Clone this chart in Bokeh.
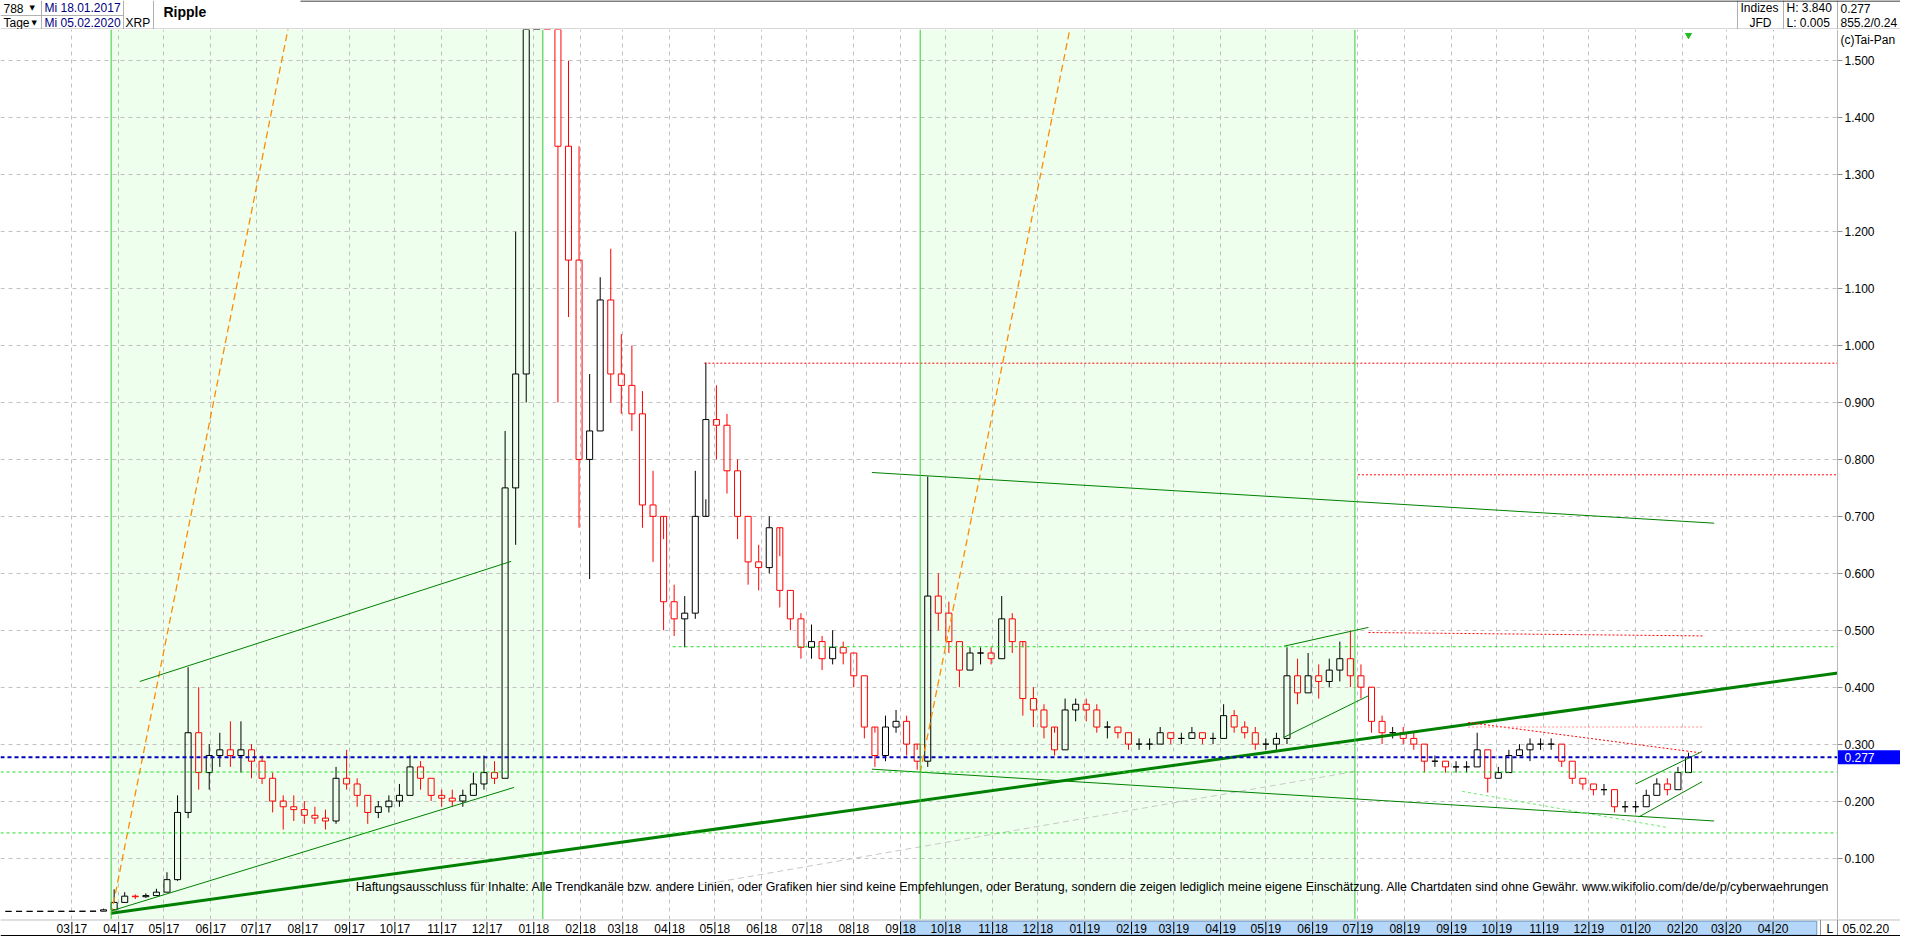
import numpy as np
import pandas as pd
from bokeh.plotting import figure
from bokeh.layouts import column
from bokeh.models import (Range1d, FixedTicker, NumeralTickFormatter, BoxAnnotation,
                          Span, Label, ColumnDataSource, Grid)
from bokeh.core.properties import value
from bokeh.embed import file_html
from bokeh.resources import INLINE

FONT = "Liberation Sans"


def ms(d):
    return pd.Timestamp(d).value / 1e6


# ---------------- data (weekly candles) ----------------
week_start = "2017-01-16"
first_open = 0.0062
close = [0.0063, 0.0063, 0.0063, 0.0064, 0.0064, 0.0064, 0.0064, 0.0065, 0.0066, 0.0090,
         0.022, 0.033, 0.032, 0.034, 0.040, 0.062, 0.180, 0.320, 0.250, 0.280,
         0.290, 0.280, 0.290, 0.270, 0.240, 0.200, 0.190, 0.185, 0.175, 0.170,
         0.165, 0.240, 0.230, 0.210, 0.180, 0.190, 0.200, 0.210, 0.260, 0.240,
         0.210, 0.205, 0.200, 0.210, 0.230, 0.250, 0.240, 0.750, 0.950, 2.100,
         2.700, 1.750, 1.350, 1.150, 0.800, 0.850, 1.080, 0.950, 0.930, 0.880,
         0.720, 0.700, 0.550, 0.520, 0.530, 0.700, 0.870, 0.860, 0.780, 0.700,
         0.620, 0.610, 0.680, 0.570, 0.520, 0.470, 0.480, 0.450, 0.470, 0.460,
         0.420, 0.330, 0.280, 0.330, 0.340, 0.300, 0.270, 0.560, 0.530, 0.480,
         0.430, 0.460, 0.460, 0.450, 0.520, 0.480, 0.380, 0.360, 0.330, 0.290,
         0.360, 0.370, 0.360, 0.330, 0.330, 0.320, 0.300, 0.300, 0.300, 0.320,
         0.310, 0.310, 0.320, 0.310, 0.310, 0.350, 0.330, 0.320, 0.300, 0.300,
         0.310, 0.420, 0.390, 0.420, 0.410, 0.430, 0.450, 0.420, 0.400, 0.340,
         0.320, 0.320, 0.310, 0.300, 0.270, 0.270, 0.260, 0.260, 0.260, 0.290,
         0.240, 0.250, 0.280, 0.290, 0.300, 0.300, 0.300, 0.270, 0.240, 0.230,
         0.220, 0.220, 0.190, 0.190, 0.190, 0.210, 0.230, 0.220, 0.250, 0.277]
high = [0.0066, 0.0066, 0.0065, 0.0067, 0.0066, 0.0065, 0.0066, 0.0067, 0.0070, 0.0110,
        0.045, 0.040, 0.036, 0.038, 0.046, 0.075, 0.210, 0.435, 0.400, 0.300,
        0.320, 0.340, 0.340, 0.300, 0.280, 0.250, 0.210, 0.210, 0.200, 0.190,
        0.185, 0.260, 0.290, 0.240, 0.210, 0.200, 0.210, 0.230, 0.280, 0.270,
        0.240, 0.220, 0.220, 0.220, 0.250, 0.280, 0.270, 0.850, 1.200, 2.400,
        3.840, 2.900, 1.900, 1.500, 1.350, 0.950, 1.120, 1.170, 1.020, 1.000,
        0.920, 0.780, 0.660, 0.580, 0.560, 0.780, 0.970, 0.930, 0.880, 0.800,
        0.700, 0.650, 0.700, 0.630, 0.570, 0.530, 0.510, 0.490, 0.500, 0.480,
        0.460, 0.420, 0.320, 0.350, 0.360, 0.350, 0.290, 0.770, 0.600, 0.550,
        0.480, 0.470, 0.470, 0.470, 0.560, 0.530, 0.470, 0.400, 0.370, 0.320,
        0.380, 0.380, 0.380, 0.370, 0.340, 0.330, 0.320, 0.310, 0.310, 0.330,
        0.320, 0.320, 0.330, 0.320, 0.320, 0.370, 0.360, 0.340, 0.330, 0.310,
        0.320, 0.470, 0.450, 0.460, 0.440, 0.450, 0.480, 0.500, 0.440, 0.400,
        0.350, 0.330, 0.330, 0.320, 0.300, 0.280, 0.270, 0.270, 0.270, 0.320,
        0.290, 0.260, 0.290, 0.300, 0.310, 0.310, 0.310, 0.300, 0.270, 0.240,
        0.230, 0.230, 0.220, 0.200, 0.200, 0.220, 0.240, 0.240, 0.260, 0.285]
low = [0.0060, 0.0061, 0.0061, 0.0062, 0.0062, 0.0062, 0.0062, 0.0063, 0.0063, 0.0064,
       0.009, 0.022, 0.028, 0.030, 0.033, 0.040, 0.060, 0.170, 0.220, 0.220,
       0.260, 0.260, 0.250, 0.240, 0.230, 0.180, 0.150, 0.165, 0.160, 0.160,
       0.150, 0.160, 0.220, 0.190, 0.160, 0.170, 0.180, 0.190, 0.210, 0.220,
       0.200, 0.190, 0.190, 0.190, 0.210, 0.220, 0.230, 0.240, 0.650, 0.900,
       1.900, 1.600, 0.900, 1.050, 0.680, 0.590, 0.850, 0.900, 0.880, 0.850,
       0.680, 0.620, 0.500, 0.490, 0.470, 0.520, 0.730, 0.800, 0.740, 0.660,
       0.580, 0.570, 0.600, 0.540, 0.500, 0.450, 0.450, 0.430, 0.440, 0.440,
       0.400, 0.310, 0.260, 0.270, 0.320, 0.280, 0.255, 0.260, 0.500, 0.460,
       0.400, 0.430, 0.440, 0.440, 0.450, 0.460, 0.350, 0.330, 0.310, 0.280,
       0.290, 0.340, 0.340, 0.320, 0.310, 0.310, 0.290, 0.290, 0.290, 0.300,
       0.300, 0.300, 0.310, 0.300, 0.300, 0.310, 0.320, 0.310, 0.290, 0.290,
       0.290, 0.300, 0.370, 0.390, 0.380, 0.400, 0.410, 0.400, 0.380, 0.320,
       0.300, 0.310, 0.300, 0.290, 0.250, 0.260, 0.250, 0.250, 0.250, 0.260,
       0.215, 0.240, 0.250, 0.280, 0.270, 0.290, 0.290, 0.260, 0.230, 0.220,
       0.210, 0.210, 0.180, 0.180, 0.180, 0.190, 0.210, 0.210, 0.220, 0.250]

month_ticks = list(pd.date_range("2017-03-01", "2020-04-01", freq="MS"))
month_labels = [d.strftime("%m") for d in month_ticks]
year_labels = [d.strftime("%y") for d in month_ticks]
price_ticks = [0.1, 0.2, 0.3, 0.4, 0.5, 0.6, 0.7, 0.8, 0.9, 1.0, 1.1, 1.2, 1.3, 1.4, 1.5]
last_price = 0.277
last_date = "2020-02-05"

# drawn analysis objects (date, price)
shaded_periods = [("2017-03-27", "2018-01-07"), ("2018-09-14", "2019-06-29")]
fan_2017 = [("2017-03-27", 0.0), ("2017-07-24", 1.58)]
fan_2018 = [("2018-09-14", 0.25), ("2018-12-24", 1.58)]
channel_2017_upper = [("2017-04-15", 0.410), ("2017-12-17", 0.621)]
channel_2017_lower = [("2017-03-27", 0.007), ("2017-12-19", 0.224)]
long_support = [("2017-03-27", 0.003), ("2020-05-14", 0.425)]
resistance_2018 = [("2018-08-13", 0.777), ("2020-02-22", 0.688)]
support_2018 = [("2018-08-13", 0.256), ("2020-02-22", 0.165)]
channel_2019_upper = [("2019-05-13", 0.472), ("2019-07-08", 0.505)]
channel_2019_lower = [("2019-05-13", 0.312), ("2019-07-08", 0.385)]
channel_2020_upper = [("2020-01-01", 0.230), ("2020-02-14", 0.287)]
channel_2020_lower = [("2020-01-03", 0.172), ("2020-02-14", 0.234)]
gray_trend = [("2018-03-25", 0.040), ("2019-07-01", 0.253)]
red_level_097 = [("2018-04-24", 0.969), ("2020-05-14", 0.969)]
red_level_077 = [("2019-07-01", 0.773), ("2020-05-14", 0.773)]
red_level_049 = [("2019-07-08", 0.496), ("2020-02-15", 0.490)]
red_trend_2019 = [("2019-09-12", 0.338), ("2020-02-12", 0.285)]
pink_level_033 = [("2019-09-12", 0.330), ("2020-02-15", 0.330)]
green_level_047 = [("2018-04-03", 0.471), ("2020-05-14", 0.471)]
green_trend_2019 = [("2019-09-08", 0.217), ("2020-01-21", 0.154)]
green_levels_full = [0.251, 0.144]
highlight_range = ("2018-09-01", "2020-04-30")

# ---------------- layout constants ----------------
W = 1900
AXW = 63
FRAME_W = W - AXW          # width of the price area, the axis column follows
H_HEAD, H_MAIN, H_STRIP = 29, 890, 17
Y0, Y1 = -0.008, 1.555
x_start, x_axis = ms("2017-01-12 17:00"), ms("2020-05-13 17:00")
x_stop = x_start + (x_axis - x_start) * W / FRAME_W
px_val = (Y1 - Y0) / H_MAIN

# ---------------- main chart ----------------
p = figure(width=W, height=H_MAIN, x_range=Range1d(x_start, x_stop),
           y_range=Range1d(Y0, Y1), x_axis_location=None, y_axis_location="right",
           output_backend="svg", toolbar_location=None,
           min_border_left=0, min_border_right=0, min_border_top=0, min_border_bottom=0)
p.background_fill_color = "white"
p.border_fill_color = "white"
p.outline_line_color = None
for g in p.grid:
    g.visible = False

for a, b in shaded_periods:
    p.add_layout(BoxAnnotation(left=ms(a), right=ms(b), fill_color="#EEFFEE", fill_alpha=1.0,
                               line_alpha=0, level="underlay"))

p.add_layout(Grid(dimension=0, ticker=FixedTicker(ticks=[ms(d) for d in month_ticks]),
                  grid_line_color="#C0C0C0", grid_line_dash="4 4", level="underlay"))
p.add_layout(Grid(dimension=1, ticker=FixedTicker(ticks=price_ticks),
                  grid_line_color="#C0C0C0", grid_line_dash="4 4", level="underlay"))

for a, b in shaded_periods:
    for d in (a, b):
        p.add_layout(Span(location=ms(d), dimension="height", line_color="#33CC33", line_width=1))

yax = p.yaxis[0]
yax.fixed_location = x_axis
yax.ticker = FixedTicker(ticks=price_ticks)
yax.formatter = NumeralTickFormatter(format="0.000")
yax.axis_line_color = "#B8B8B8"
yax.major_tick_line_color = "#909090"
yax.major_tick_in = 0
yax.major_tick_out = 5
yax.minor_tick_line_color = None
yax.major_label_standoff = 2
yax.major_label_text_font = FONT
yax.major_label_text_font_size = "12px"
yax.major_label_text_color = "black"

# candles
xs = [ms(d) for d in (pd.date_range(week_start, periods=len(close), freq="7D") + pd.Timedelta(days=2))]
o = np.array([first_open] + close[:-1])
c = np.array(close)
h = np.array(high)
l = np.array(low)
top = np.maximum(o, c)
bot = np.minimum(o, c)
col = np.where(c >= o, "#000000", "#FF0000")
src = ColumnDataSource(dict(x=xs, top=top, bot=bot, high=h, low=l, color=col))
p.segment(x0="x", y0="high", x1="x", y1="top", line_color="color", line_width=1, source=src)
p.segment(x0="x", y0="bot", x1="x", y1="low", line_color="color", line_width=1, source=src)
p.vbar(x="x", width=4.0 * 86400000, top="top", bottom="bot", fill_alpha=0,
       line_color="color", line_width=1, source=src)


def draw(pts, color, width, dash="solid"):
    p.line([ms(d) for d, _ in pts], [v for _, v in pts], line_color=color,
           line_width=width, line_dash=dash)


draw(fan_2017, "#FF8C00", 1.3, "7 4")
draw(fan_2018, "#FF8C00", 1.3, "7 4")
draw(gray_trend, "#C8C8C8", 1, "6 4")
for pts in (channel_2017_upper, channel_2017_lower, resistance_2018, support_2018,
            channel_2019_upper, channel_2019_lower, channel_2020_upper, channel_2020_lower):
    draw(pts, "#008000", 1)
draw(long_support, "#008000", 3)
for pts in (red_level_097, red_level_077, red_level_049, red_trend_2019):
    draw(pts, "#FF0000", 1, "2 2")
draw(pink_level_033, "#FF9090", 1, "2 2")
draw(green_level_047, "#22DD22", 1, "3 3")
draw(green_trend_2019, "#66EE66", 1, "3 3")
for lv in green_levels_full:
    p.line([x_start, x_axis], [lv, lv], line_color="#22DD22", line_width=1, line_dash="3 3")
p.line([x_start, x_axis], [last_price, last_price], line_color="#0000C0", line_width=2,
       line_dash="4 3")

p.scatter([ms(last_date)], [1.545], marker="inverted_triangle", size=6, color="#22BB22")

# axis column: blank it, then the current-price box
p.quad(left=[x_axis], right=[x_stop], bottom=[Y0], top=[Y1], fill_color="white",
       line_color=None)
p.quad(left=[x_axis], right=[x_stop], bottom=[last_price - 7 * px_val],
       top=[last_price + 7 * px_val], fill_color="#0000FF", line_color=None)
p.text(x=[x_axis], y=[last_price], text=["0.277"], x_offset=7, text_baseline="middle",
       text_font=value(FONT), text_font_size="12px", text_color="white")
p.text(x=[x_axis], y=[1.536], text=["(c)Tai-Pan"], x_offset=3, text_baseline="middle",
       text_font=value(FONT), text_font_size="12px", text_color="black")
p.add_layout(Label(x=FRAME_W - 4, x_units="screen", y=0.049, y_units="data",
                   text="Haftungsausschluss für Inhalte: Alle Trendkanäle bzw. andere Linien, oder Grafiken hier sind keine Empfehlungen, oder Beratung, sondern die zeigen lediglich meine eigene Einschätzung. Alle Chartdaten sind ohne Gewähr.  www.wikifolio.com/de/de/p/cyberwaehrungen",
                   text_color="black", text_font=FONT, text_font_size="12.4px",
                   text_align="right", text_baseline="middle"))

# shading beneath the grid lines
boxes = [r for r in p.center if isinstance(r, BoxAnnotation)]
p.center = boxes + [r for r in p.center if not isinstance(r, BoxAnnotation)]

# ---------------- header ----------------
hd = figure(width=W, height=H_HEAD, x_range=Range1d(0, W), y_range=Range1d(H_HEAD, 0),
            x_axis_location=None, y_axis_location=None, output_backend="svg",
            toolbar_location=None, min_border=0)
hd.grid.visible = False
hd.outline_line_color = None
hd.background_fill_color = "white"
hd.border_fill_color = "white"
hd.segment(x0=[41, 123, 153, 0, FRAME_W - 100, FRAME_W - 54, FRAME_W, 0],
           y0=[0, 0, 0, 15, 0, 0, 0, 28.5],
           x1=[41, 123, 153, 123, FRAME_W - 100, FRAME_W - 54, FRAME_W, W],
           y1=[29, 29, 29, 15, 29, 29, 29, 28.5], line_color="#B0B0B0", line_width=1)
hd.segment(x0=[300], y0=[0.5], x1=[W], y1=[0.5], line_color="black", line_width=1)
hsrc = ColumnDataSource(dict(
    x=[3, 44, 3, 44, 125, 163, FRAME_W - 97, FRAME_W - 77, FRAME_W - 51, FRAME_W - 51,
       FRAME_W + 3, FRAME_W + 3],
    y=[7.5, 7.5, 22.5, 22.5, 22.5, 11, 7.5, 22.5, 7.5, 22.5, 7.5, 22.5],
    text=["788", "Mi 18.01.2017", "Tage", "Mi 05.02.2020", "XRP", "Ripple", "Indizes", "JFD",
          "H: 3.840", "L: 0.005", "0.277", "855.2/0.24"],
    align=["left", "left", "left", "left", "left", "left", "left", "center", "left", "left",
           "left", "left"],
    style=["normal"] * 5 + ["bold"] + ["normal"] * 6,
    size=["12px"] * 5 + ["14px"] + ["12px"] * 6,
    color=["black", "#000080", "black", "#000080"] + ["black"] * 8,
))
hd.text(x="x", y="y", text="text", text_align="align", text_baseline="middle",
        text_font=value(FONT), text_font_style="style", text_font_size="size",
        text_color="color", source=hsrc)
hd.text(x=[29, 31], y=[7.5, 22.5], text=["▼", "▼"], text_align="left", text_baseline="middle",
        text_font=value("DejaVu Sans"), text_font_size="7px", text_color="black")

# ---------------- bottom date strip ----------------
st = figure(width=W, height=H_STRIP, x_range=p.x_range,
            y_range=Range1d(0, 1), x_axis_location=None, y_axis_location=None,
            output_backend="svg", toolbar_location=None, min_border=0)
st.grid.visible = False
st.outline_line_color = None
st.background_fill_color = "white"
st.border_fill_color = "white"
st.quad(left=[ms(highlight_range[0])], right=[ms(highlight_range[1])], bottom=[0.08],
        top=[0.9], fill_color="#B4D6F8", line_color="#6A9AD0")
mx = [ms(d) for d in month_ticks]
st.segment(x0=mx, y0=[0.14] * len(mx), x1=mx, y1=[0.86] * len(mx), line_color="black",
           line_width=1)
st.text(x=mx, y=[0.47] * len(mx), text=month_labels, text_align="right", x_offset=-2,
        text_baseline="middle", text_font=value(FONT), text_font_size="12px",
        text_color="black")
st.text(x=mx, y=[0.47] * len(mx), text=year_labels, text_align="left", x_offset=2,
        text_baseline="middle", text_font=value(FONT), text_font_size="12px",
        text_color="black")
for sx in (FRAME_W - 17, FRAME_W):
    st.add_layout(Span(location=sx, location_units="screen", dimension="height",
                       line_color="#909090", line_width=1))
st.add_layout(Span(location=0.98, dimension="width", line_color="#A0A0A0", line_width=1))
st.add_layout(Span(location=0.03, dimension="width", line_color="black", line_width=2))
st.add_layout(Label(x=FRAME_W - 11, x_units="screen", y=0.47, text="L", text_font=FONT,
                    text_font_size="12px", text_baseline="middle", text_color="black"))
st.add_layout(Label(x=FRAME_W + 5, x_units="screen", y=0.47, text="05.02.20", text_font=FONT,
                    text_font_size="12px", text_baseline="middle", text_color="black"))

layout = column(hd, p, st, spacing=0)
open("out.html", "w").write(file_html(layout, INLINE))
